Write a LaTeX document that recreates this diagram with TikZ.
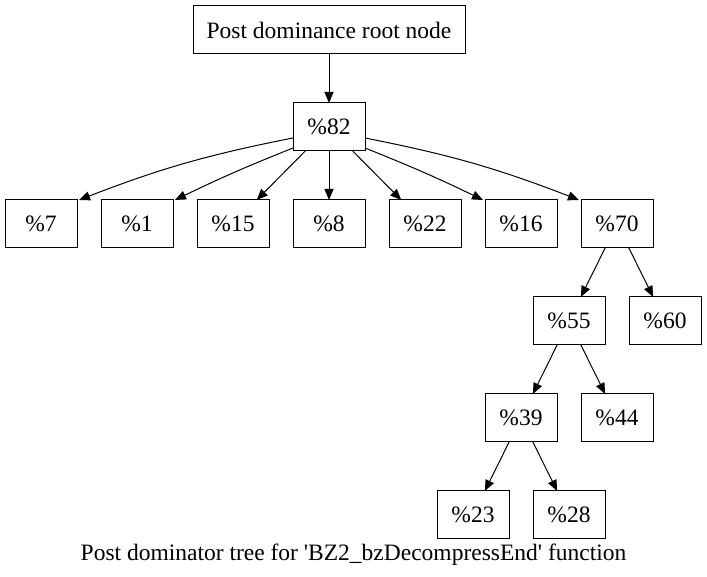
\documentclass[tikz,border=0pt]{standalone}
\usepackage{fontspec}
\setmainfont{Liberation Serif}
\usepackage{tikz}
\usetikzlibrary{arrows.meta, positioning}

\begin{document}
\begin{tikzpicture}[
  x=1pt, y=1pt,
  >={Triangle[length=11pt, width=9pt]}, line width=1pt,
  box/.style = {draw, rectangle, inner sep=0pt, outer sep=0pt, minimum width=72pt, minimum height=48pt, font=\fontsize{23.5}{26}\selectfont},
]
  \useasboundingbox (0,0) rectangle (707,577);

  \node[box, minimum width=272pt] at (329,547) (root) {Post dominance root node};
  \node[box, below=49pt of root]  (n82) {\%82};

  \node[box, below=49pt of n82]   (n8)  {\%8};
  \node[box, left=24pt of n8]     (n15) {\%15};
  \node[box, left=24pt of n15]    (n1)  {\%1};
  \node[box, left=24pt of n1]     (n7)  {\%7};
  \node[box, right=24pt of n8]    (n22) {\%22};
  \node[box, right=24pt of n22]   (n16) {\%16};
  \node[box, right=24pt of n16]   (n70) {\%70};

  \node[box, below=49pt of n70, xshift=-48pt] (n55) {\%55};
  \node[box, right=24pt of n55]               (n60) {\%60};
  \node[box, below=49pt of n55, xshift=-48pt] (n39) {\%39};
  \node[box, right=24pt of n39]               (n44) {\%44};
  \node[box, below=49pt of n39, xshift=-48pt] (n23) {\%23};
  \node[box, right=24pt of n23]               (n28) {\%28};

  \node[font=\fontsize{23.5}{26}\selectfont] at (353.5,22) (caption)
    {Post dominator tree for \textquotesingle BZ2\_bzDecompressEnd\textquotesingle\ function};

  \draw[->] (root) -- (n82);
  \draw[->] ([yshift=-35pt]n82.north west) to[bend right=5] ([xshift=2pt]n7.north east);
  \draw[->] ([yshift=-45pt]n82.north west) to[bend right=2] ([xshift=2pt]n1.north east);
  \draw[->] (n82) -- (n15);
  \draw[->] (n82) -- (n8);
  \draw[->] (n82) -- (n22);
  \draw[->] ([yshift=-45pt]n82.north east) to[bend left=2] ([xshift=-2pt]n16.north west);
  \draw[->] ([yshift=-35pt]n82.north east) to[bend left=5] ([xshift=-2pt]n70.north west);
  \draw[->] (n70) -- (n55);
  \draw[->] (n70) -- (n60);
  \draw[->] (n55) -- (n39);
  \draw[->] (n55) -- (n44);
  \draw[->] (n39) -- (n23);
  \draw[->] (n39) -- (n28);
\end{tikzpicture}
\end{document}
